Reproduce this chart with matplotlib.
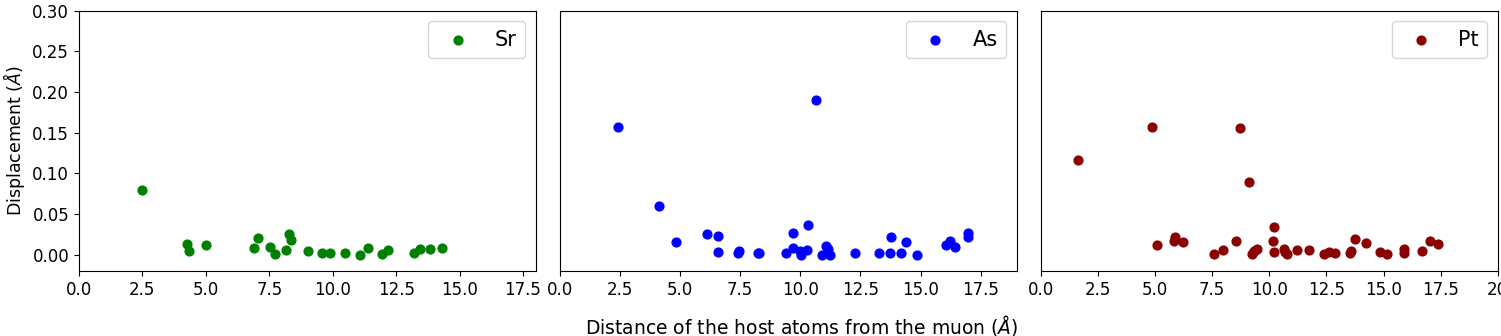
import matplotlib
matplotlib.use("Agg")
import matplotlib.pyplot as plt
from matplotlib.ticker import MultipleLocator

# distances (Å) and displacements (Å)
sr_dist = [2.50, 4.26, 4.35, 5.01, 6.89, 7.06, 7.54, 7.74, 8.15, 8.26, 8.35,
           9.01, 9.56, 9.88, 10.50, 11.08, 11.39, 11.93, 12.19, 13.19, 13.45,
           13.85, 14.31]
sr_disp = [0.080, 0.0126, 0.004, 0.012, 0.0077, 0.021, 0.009, 0.001, 0.006,
           0.026, 0.018, 0.0045, 0.0024, 0.0024, 0.0016, 0.0, 0.0086, 0.0004,
           0.006, 0.0024, 0.0073, 0.0073, 0.0086]

as_dist = [2.43, 10.67, 4.14, 4.83, 6.10, 6.56, 6.57, 7.40, 7.43, 8.25, 8.27,
           9.39, 9.68, 9.69, 9.97, 10.01, 10.28, 10.33, 10.92, 11.08, 11.14,
           11.22, 12.26, 13.26, 13.72, 13.76, 14.18, 14.40, 14.86, 16.04,
           16.22, 16.43, 16.97, 16.97]
as_disp = [0.157, 0.190, 0.060, 0.016, 0.0258, 0.0233, 0.0037, 0.0025, 0.004,
           0.002, 0.0022, 0.0016, 0.027, 0.0077, 0.0045, 0.0, 0.0053, 0.036,
           0.0, 0.011, 0.0065, 0.0, 0.0025, 0.0025, 0.0016, 0.0224, 0.0025,
           0.016, 0.0, 0.0118, 0.0167, 0.0098, 0.0265, 0.022]

pt_dist = [1.63, 4.88, 8.72, 9.12, 10.22, 5.09, 5.85, 5.83, 6.24, 7.58, 7.98,
           8.55, 9.23, 9.34, 9.45, 10.14, 10.22, 10.66, 10.69, 10.77, 11.23,
           11.75, 12.40, 12.62, 12.88, 13.53, 13.59, 13.77, 14.25, 14.86,
           15.14, 15.91, 15.91, 16.70, 17.04, 17.40]
pt_disp = [0.1165, 0.157, 0.156, 0.0895, 0.0343, 0.0123, 0.0216, 0.0172,
           0.016, 0.0012, 0.0061, 0.0172, 0.0012, 0.0044, 0.0065, 0.0172,
           0.0037, 0.0065, 0.0037, 0.0007, 0.0061, 0.0061, 0.0012, 0.0037,
           0.0025, 0.0025, 0.004, 0.0196, 0.0147, 0.0028, 0.0012, 0.0025,
           0.0065, 0.0044, 0.0163, 0.0135]

panels = [("Sr", sr_dist, sr_disp, "green", 18),
          ("As", as_dist, as_disp, "blue", 19),
          ("Pt", pt_dist, pt_disp, "darkred", 20)]

fig, axes = plt.subplots(1, 3, figsize=(15.01, 3.36), dpi=100, sharey=True)
fig.subplots_adjust(left=0.0526, right=0.9978, top=0.968, bottom=0.1935,
                    wspace=0.053)

for ax, (name, d, s, c, xmax) in zip(axes, panels):
    ax.scatter(d, s, color=c, s=40, label=name)
    ax.set_xlim(0, xmax)
    ax.set_ylim(-0.02, 0.30)
    ax.xaxis.set_major_locator(MultipleLocator(2.5))
    ax.tick_params(labelsize=12)
    ax.legend(loc="upper right", fontsize=15)

axes[2].set_xticks([0, 2.5, 5, 7.5, 10, 12.5, 15, 17.5, 20])
axes[2].set_xticklabels(["0.0", "2.5", "5.0", "7.5", "10.0", "12.5", "15.0",
                         "17.5", "20"])

axes[0].set_ylabel(r"Displacement ($\AA$)", fontsize=12.5)
for ax in axes[1:]:
    ax.tick_params(left=False)
fig.text(0.534, 0.030, r"Distance of the host atoms from the muon ($\AA$)",
         ha="center", va="center", fontsize=13.5)

fig.savefig("out.png", dpi=100)
